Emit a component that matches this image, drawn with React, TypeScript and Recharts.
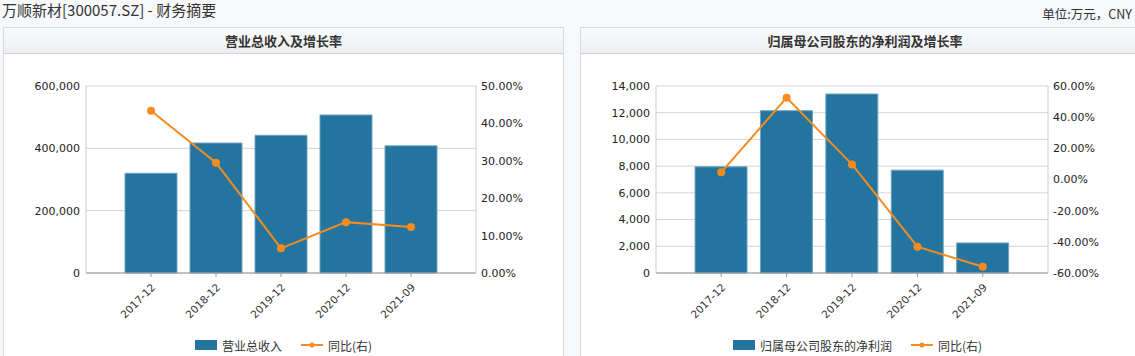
import React from 'react';
import { ComposedChart, Bar, Line, XAxis, YAxis, CartesianGrid } from 'recharts';

const periods = ['2017-12', '2018-12', '2019-12', '2020-12', '2021-09'];

// 营业总收入 (万元) and 同比 (%)
const revenue = [320000, 417000, 442000, 507000, 408000];
const revenueYoy = [43.4, 29.5, 6.6, 13.6, 12.3];

// 归属母公司股东的净利润 (万元) and 同比 (%)
const netProfit = [7950, 12150, 13400, 7700, 2250];
const netProfitYoy = [4.6, 52.5, 9.7, -43.1, -56.0];

const revenueTicks = [0, 200000, 400000, 600000];
const revenueYoyTicks = [0, 10, 20, 30, 40, 50];
const profitTicks = [0, 2000, 4000, 6000, 8000, 10000, 12000, 14000];
const profitYoyTicks = [-60, -40, -20, 0, 20, 40, 60];

const BAR = '#23759f';
const LINE = '#f68b1f';
const CJK = '"Noto Sans CJK SC", "DejaVu Sans", sans-serif';
const NUM = '"DejaVu Sans", sans-serif';

const RotTick = (props: any) => {
  const { x, y, payload } = props;
  const tx = x + 5;
  const ty = y + 9;
  return (
    <text x={tx} y={ty} transform={`rotate(-45 ${tx} ${ty})`} textAnchor="end" fontSize={10.5} fontFamily={NUM} fill="#333">
      {payload.value}
    </text>
  );
};

const Legend2 = ({ barName, left, width }: { barName: string; left: number; width: number }) => (
  <div style={{ position: 'absolute', left, top: 336, width, height: 18, display: 'flex', justifyContent: 'center', alignItems: 'center', fontFamily: CJK, fontSize: 12, color: '#333' }}>
    <span style={{ display: 'inline-block', width: 22, height: 10, background: BAR, marginRight: 5 }} />
    <span>{barName}</span>
    <svg width={24} height={10} style={{ marginLeft: 18, marginRight: 4 }}>
      <line x1={1} y1={5} x2={23} y2={5} stroke={LINE} strokeWidth={2} />
      <circle cx={12} cy={5} r={2.5} fill={LINE} />
    </svg>
    <span>同比(右)</span>
  </div>
);

const Panel = ({ left, width, title }: { left: number; width: number; title: string }) => (
  <div style={{ position: 'absolute', left, top: 27, width, height: 340, background: '#fff', border: '1px solid #d6d9dd', boxSizing: 'border-box' }}>
    <div style={{ height: 25, borderBottom: '1px solid #cfd2d6', background: 'linear-gradient(#fafbfc, #eceef0)', textAlign: 'center', lineHeight: '25px', fontFamily: CJK, fontWeight: 'bold', fontSize: 13, color: '#333' }}>
      {title}
    </div>
  </div>
);

const FinChart = (p: {
  left: number; width: number; leftW: number; rightW: number;
  bars: number[]; yoy: number[]; lTicks: number[]; rTicks: number[];
}) => {
  const data = periods.map((period, i) => ({ period, v: p.bars[i], r: p.yoy[i] }));
  const lMax = p.lTicks[p.lTicks.length - 1];
  const rMin = p.rTicks[0];
  const rMax = p.rTicks[p.rTicks.length - 1];
  return (
    <div style={{ position: 'absolute', left: p.left, top: 53 }}>
      <ComposedChart width={p.width} height={303} data={data} margin={{ top: 33, right: 0, bottom: 0, left: 0 }} barCategoryGap="10%">
        <CartesianGrid vertical={false} stroke="#d4d4d4" yAxisId="l" />
        <XAxis dataKey="period" padding={{ left: 32.5, right: 32.5 }} height={83} stroke="#999" tickSize={4} tick={<RotTick />} interval={0} />
        <YAxis yAxisId="l" width={p.leftW} domain={[0, lMax]} ticks={p.lTicks} stroke="#ccc" tickLine={false} tickSize={4}
          tick={{ fill: '#222', fontSize: 11, fontFamily: NUM }} tickFormatter={(v: number) => v.toLocaleString('en-US')} />
        <YAxis yAxisId="r" orientation="right" width={p.rightW} domain={[rMin, rMax]} ticks={p.rTicks} stroke="#ccc" tickLine={false} tickSize={3}
          tick={{ fill: '#222', fontSize: 11, fontFamily: NUM }} tickFormatter={(v: number) => v.toFixed(2) + '%'} />
        <Bar yAxisId="l" dataKey="v" fill={BAR} stroke="#6fa3c0" strokeWidth={1} isAnimationActive={false} />
        <Line yAxisId="r" dataKey="r" stroke={LINE} strokeWidth={2} dot={{ r: 4, fill: LINE, stroke: LINE, strokeWidth: 0 }} isAnimationActive={false} />
      </ComposedChart>
    </div>
  );
};

export default function App() {
  return (
    <div style={{ position: 'absolute', left: 0, top: 0, width: 1135, height: 356, overflow: 'hidden', background: '#f6f8fa' }}>
      <div style={{ position: 'absolute', left: 2, top: 0, fontFamily: CJK, fontSize: 15, color: '#333', lineHeight: '20px' }}>
        万顺新材[300057.SZ] - 财务摘要
      </div>
      <div style={{ position: 'absolute', right: 3, top: 5, fontFamily: CJK, fontSize: 12.5, color: '#333', lineHeight: '18px' }}>
        单位:万元，CNY
      </div>
      <Panel left={3} width={561} title="营业总收入及增长率" />
      <Panel left={580} width={570} title="归属母公司股东的净利润及增长率" />
      <FinChart left={3} width={561} leftW={83} rightW={88} bars={revenue} yoy={revenueYoy} lTicks={revenueTicks} rTicks={revenueYoyTicks} />
      <FinChart left={580} width={555} leftW={76} rightW={87} bars={netProfit} yoy={netProfitYoy} lTicks={profitTicks} rTicks={profitYoyTicks} />
      <Legend2 barName="营业总收入" left={3} width={561} />
      <Legend2 barName="归属母公司股东的净利润" left={580} width={555} />
    </div>
  );
}
